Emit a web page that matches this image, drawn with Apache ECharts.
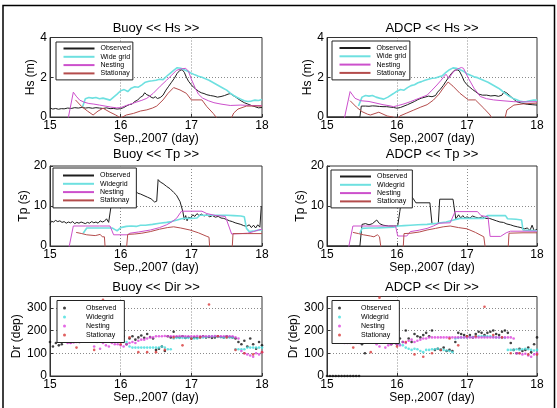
<!DOCTYPE html>
<html lang="en">
<head>
<meta charset="UTF-8" />
<title>Buoy / ADCP</title>
<style>
  body { margin: 0; padding: 0; background: #fff; }
  .chart { width: 557px; height: 408px; }
</style>
</head>
<body>
<div class="chart"></div>
<script src="https://cdn.jsdelivr.net/npm/echarts@6/dist/echarts.min.js"></script>
<script>
// ---- Hs (m) : [day, value] ----
const buoyHsObs = [[15.00,0.45],[15.04,0.40],[15.08,0.43],[15.12,0.39],[15.16,0.42],[15.20,0.41],[15.25,0.45],[15.30,0.43],[15.35,0.47],[15.40,0.45],[15.45,0.48],[15.50,0.45],[15.55,0.47],[15.60,0.44],[15.65,0.47],[15.70,0.45],[15.75,0.43],[15.80,0.46],[15.85,0.42],[15.90,0.43],[15.95,0.40],[16.00,0.42],[16.04,0.47],[16.08,0.55],[16.12,0.62],[16.16,0.65],[16.20,0.78],[16.24,0.85],[16.28,1.00],[16.31,1.05],[16.34,1.22],[16.37,1.12],[16.40,1.08],[16.43,1.00],[16.46,0.95],[16.49,1.02],[16.52,0.93],[16.56,0.98],[16.60,1.10],[16.64,1.35],[16.68,1.55],[16.72,1.75],[16.76,1.95],[16.80,2.20],[16.84,2.35],[16.87,2.38],[16.90,2.25],[16.93,2.00],[16.96,1.80],[17.00,1.62],[17.03,1.50],[17.06,1.42],[17.10,1.30],[17.14,1.22],[17.18,1.18],[17.22,1.12],[17.27,1.08],[17.32,1.05],[17.37,1.00],[17.42,1.03],[17.47,1.08],[17.52,1.15],[17.55,1.18],[17.58,1.10],[17.62,1.02],[17.66,0.92],[17.70,0.82],[17.75,0.72],[17.80,0.65],[17.85,0.58],[17.90,0.52],[17.95,0.46],[18.00,0.48]];
const buoyHsWide = [[15.46,0.50],[15.50,0.92],[15.55,0.98],[15.60,0.95],[15.65,0.98],[15.70,0.92],[15.75,0.95],[15.80,0.90],[15.85,0.85],[15.90,1.00],[15.95,1.15],[16.00,1.32],[16.05,1.38],[16.10,1.28],[16.15,1.45],[16.20,1.52],[16.25,1.50],[16.30,1.62],[16.35,1.75],[16.40,1.80],[16.45,1.82],[16.50,1.85],[16.55,1.90],[16.60,1.88],[16.65,2.05],[16.70,2.20],[16.75,2.35],[16.80,2.48],[16.85,2.45],[16.90,2.38],[16.95,2.30],[17.00,2.20],[17.05,2.12],[17.10,2.05],[17.15,2.00],[17.20,1.92],[17.25,1.85],[17.30,1.75],[17.35,1.65],[17.40,1.55],[17.45,1.45],[17.50,1.35],[17.55,1.20],[17.60,1.08],[17.65,0.98],[17.70,0.90],[17.75,0.82],[17.80,0.78],[17.85,0.80],[17.90,0.85],[17.95,0.83],[18.00,0.88]];
const buoyHsNest = [[15.25,-0.2],[15.33,1.25],[15.37,1.05],[15.42,0.85],[15.48,0.75],[15.55,0.68],[15.62,0.65],[15.70,0.60],[15.78,0.55],[15.86,0.50],[15.94,0.46],[16.00,0.47],[16.08,0.58],[16.15,0.66],[16.23,0.76],[16.30,0.84],[16.37,0.94],[16.46,1.19],[16.56,1.55],[16.65,1.85],[16.72,2.10],[16.79,2.35],[16.86,2.42],[16.92,2.45],[16.96,2.30],[17.00,1.90],[17.05,1.50],[17.10,1.15],[17.16,0.95],[17.24,0.82],[17.32,0.72],[17.42,0.65],[17.55,0.58],[17.70,0.60],[17.85,0.58],[18.00,0.57]];
const buoyHsStat = [[15.36,0.86],[15.45,0.52],[15.53,0.30],[15.61,0.10],[15.68,0.30],[15.75,0.44],[15.85,0.24],[15.93,0.10],[16.00,-0.05],[16.08,0.10],[16.18,0.18],[16.28,0.30],[16.37,0.36],[16.45,0.45],[16.51,0.55],[16.60,0.86],[16.67,1.19],[16.75,1.48],[16.84,1.36],[16.93,1.19],[17.00,0.86],[17.15,0.86],[17.22,0.52],[17.31,0.18],[17.37,-0.1],[17.56,-0.1],[17.60,0.20],[17.66,0.40],[17.78,0.55],[17.90,0.55],[18.00,0.55]];

const adcpHsObs = [[15.00,0],[15.47,0],[15.49,0.55],[15.55,0.55],[15.60,0.54],[15.65,0.56],[15.70,0.55],[15.75,0.53],[15.80,0.52],[15.85,0.52],[15.90,0.50],[15.95,0.48],[16.00,0.44],[16.05,0.48],[16.10,0.55],[16.15,0.62],[16.20,0.70],[16.25,0.78],[16.30,0.88],[16.35,0.95],[16.40,1.00],[16.45,1.05],[16.50,1.02],[16.55,1.08],[16.58,1.25],[16.62,1.40],[16.66,1.58],[16.70,1.80],[16.74,2.00],[16.78,2.20],[16.82,2.35],[16.86,2.37],[16.89,2.32],[16.93,2.05],[16.96,1.80],[17.00,1.62],[17.04,1.50],[17.08,1.38],[17.12,1.28],[17.17,1.15],[17.22,1.10],[17.28,1.10],[17.34,1.06],[17.40,1.08],[17.45,1.04],[17.50,1.10],[17.53,1.28],[17.57,1.20],[17.61,1.08],[17.66,0.92],[17.71,0.77],[17.78,0.70],[17.86,0.64],[17.93,0.62],[18.00,0.60]];
const adcpHsWide = [[15.45,0.55],[15.50,1.00],[15.55,1.08],[15.60,1.05],[15.65,1.08],[15.70,1.00],[15.75,0.95],[15.81,0.90],[15.87,1.00],[15.95,1.18],[16.00,1.30],[16.05,1.38],[16.10,1.35],[16.15,1.48],[16.20,1.58],[16.25,1.62],[16.30,1.72],[16.35,1.78],[16.40,1.85],[16.45,1.90],[16.50,1.95],[16.55,1.96],[16.60,2.02],[16.65,2.08],[16.70,2.25],[16.75,2.38],[16.80,2.47],[16.85,2.45],[16.90,2.38],[16.95,2.30],[17.00,2.18],[17.05,2.10],[17.10,2.02],[17.15,1.98],[17.20,1.90],[17.25,1.82],[17.30,1.75],[17.35,1.65],[17.40,1.55],[17.45,1.45],[17.50,1.32],[17.55,1.18],[17.60,1.05],[17.65,0.95],[17.70,0.88],[17.75,0.80],[17.80,0.76],[17.85,0.78],[17.90,0.82],[17.95,0.85],[18.00,0.85]];
const adcpHsNest = [[15.24,-0.2],[15.33,1.28],[15.40,0.94],[15.48,0.82],[15.60,0.78],[15.70,0.70],[15.80,0.62],[15.90,0.56],[15.95,0.52],[16.02,0.58],[16.10,0.66],[16.19,0.77],[16.30,0.92],[16.43,1.10],[16.50,1.35],[16.57,1.61],[16.63,1.85],[16.67,2.03],[16.70,2.15],[16.74,1.95],[16.81,2.29],[16.87,2.42],[16.92,2.49],[16.95,2.45],[17.02,1.95],[17.10,1.45],[17.19,1.03],[17.28,0.92],[17.38,0.86],[17.50,0.82],[17.67,0.77],[17.85,0.76],[18.00,0.77]];
const adcpHsStat = [[15.33,0.82],[15.42,0.50],[15.50,0.27],[15.58,0.14],[15.62,0.10],[15.74,0.24],[15.86,0.05],[15.94,0.00],[16.00,-0.1],[16.04,0.05],[16.14,0.20],[16.24,0.35],[16.34,0.50],[16.43,0.62],[16.52,0.85],[16.60,1.15],[16.67,1.50],[16.73,1.76],[16.80,1.55],[16.90,1.19],[17.02,0.86],[17.12,0.86],[17.24,0.44],[17.33,0.10],[17.36,-0.1],[17.54,-0.1],[17.57,0.35],[17.67,0.60],[17.80,0.66],[17.90,0.68],[18.00,0.70]];

// ---- Tp (s) : [day, value] ----
const buoyTpObs = [[15.00,5.4],[15.02,6.2],[15.05,6.0],[15.08,6.4],[15.11,6.1],[15.14,6.3],[15.17,5.9],[15.20,6.1],[15.23,5.7],[15.26,6.0],[15.29,5.8],[15.32,6.1],[15.35,5.6],[15.38,5.9],[15.41,5.7],[15.44,6.0],[15.47,5.8],[15.50,5.6],[15.53,5.9],[15.56,5.7],[15.59,6.1],[15.62,5.8],[15.65,6.0],[15.68,5.7],[15.71,6.3],[15.74,6.0],[15.77,6.2],[15.80,6.8],[15.83,5.9],[15.855,5.8],[15.86,9.5],[15.90,10.2],[15.94,12.0],[15.98,12.8],[16.02,13.5],[16.05,12.9],[16.08,14.2],[16.11,13.4],[16.14,14.5],[16.17,13.6],[16.20,14.0],[16.24,13.2],[16.28,13.0],[16.33,12.6],[16.38,12.2],[16.43,11.8],[16.48,11.0],[16.51,11.2],[16.53,16.6],[16.56,16.0],[16.60,15.6],[16.65,14.9],[16.70,14.3],[16.75,13.4],[16.79,12.7],[16.84,11.1],[16.88,8.6],[16.90,6.6],[16.92,7.6],[16.94,6.3],[16.96,7.2],[16.99,7.0],[17.02,7.8],[17.05,7.4],[17.08,8.1],[17.11,7.6],[17.14,8.0],[17.18,7.5],[17.22,7.8],[17.26,7.3],[17.30,7.6],[17.34,7.2],[17.38,7.4],[17.42,7.0],[17.46,6.9],[17.50,6.6],[17.54,6.3],[17.58,6.1],[17.62,5.8],[17.66,5.6],[17.70,5.4],[17.74,5.1],[17.78,4.9],[17.82,5.3],[17.85,4.6],[17.88,5.2],[17.91,4.5],[17.94,5.3],[17.97,4.7],[17.985,5.0],[17.99,10.0]];
const buoyTpWide = [[15.47,3.2],[15.52,4.5],[15.60,4.5],[15.70,4.5],[15.80,4.5],[15.88,4.5],[15.92,4.1],[15.95,3.8],[16.00,4.6],[16.08,4.9],[16.15,5.0],[16.22,4.9],[16.28,5.2],[16.35,5.2],[16.45,5.4],[16.55,5.7],[16.65,5.9],[16.72,6.1],[16.80,6.5],[16.86,6.8],[16.90,6.9],[17.00,6.9],[17.08,7.0],[17.12,7.7],[17.20,7.7],[17.30,7.7],[17.40,7.7],[17.50,7.7],[17.60,7.6],[17.70,7.5],[17.75,7.3],[17.78,4.4],[17.82,3.6],[17.90,3.8],[18.00,4.1]];
const buoyTpNest = [[15.25,-2],[15.33,5.0],[15.50,5.0],[15.70,5.0],[15.85,5.0],[15.90,2.8],[16.10,2.8],[16.13,3.2],[16.25,3.5],[16.42,4.0],[16.55,4.6],[16.65,5.3],[16.72,6.0],[16.79,6.9],[16.86,8.7],[17.15,8.7],[17.22,8.1],[17.35,7.6],[17.48,7.4],[17.53,5.0],[17.57,3.0],[17.70,3.1],[17.80,3.2],[17.88,3.6],[17.95,4.0],[18.00,4.2]];
const buoyTpStat = [[15.37,3.4],[15.45,3.1],[15.52,2.8],[15.64,2.6],[15.71,2.9],[15.74,2.3],[15.77,2.3],[15.79,-3],[16.07,-3],[16.10,2.9],[16.20,3.0],[16.30,3.2],[16.42,3.6],[16.55,4.2],[16.66,4.6],[16.75,4.8],[16.85,4.5],[16.98,4.0],[17.10,3.3],[17.22,2.4],[17.25,2.2],[17.27,-3],[17.57,-3],[17.59,3.1],[17.80,3.1],[18.00,3.1]];

const adcpTpObs = [[15.00,0],[15.47,0],[15.50,5.4],[15.55,5.6],[15.60,5.3],[15.65,5.6],[15.71,6.5],[15.75,5.6],[15.80,5.2],[15.88,5.0],[15.95,5.0],[16.01,5.0],[16.04,8.6],[16.07,12.3],[16.10,12.9],[16.14,11.9],[16.19,12.8],[16.23,11.9],[16.27,10.8],[16.47,10.8],[16.50,5.6],[16.59,5.6],[16.61,11.7],[16.80,11.7],[16.84,6.8],[16.88,7.8],[16.91,7.0],[16.94,7.6],[16.97,7.0],[17.00,7.3],[17.04,7.0],[17.08,7.5],[17.12,7.2],[17.17,7.0],[17.22,7.3],[17.27,6.9],[17.32,6.9],[17.37,6.6],[17.42,6.3],[17.47,6.0],[17.52,5.9],[17.57,5.5],[17.62,5.3],[17.67,5.0],[17.72,4.8],[17.77,4.6],[17.82,4.3],[17.86,4.5],[17.90,3.9],[17.93,5.2],[17.96,3.8],[18.00,4.2]];
const adcpTpWide = [[15.47,3.2],[15.50,4.4],[15.60,4.5],[15.70,4.5],[15.80,4.6],[15.95,4.7],[16.02,5.0],[16.10,5.1],[16.19,5.2],[16.30,5.3],[16.43,5.4],[16.57,5.7],[16.70,6.0],[16.81,6.5],[16.90,6.9],[17.10,6.9],[17.24,6.9],[17.29,7.6],[17.45,7.6],[17.55,7.6],[17.58,6.8],[17.70,6.7],[17.78,6.5],[17.80,4.0],[17.90,3.9],[18.00,3.8]];
const adcpTpNest = [[15.29,-2],[15.37,5.0],[15.60,5.0],[15.80,5.0],[15.98,5.0],[16.01,2.5],[16.14,2.5],[16.19,3.6],[16.30,3.9],[16.43,4.4],[16.52,5.0],[16.60,5.7],[16.76,5.8],[16.83,8.6],[17.15,8.6],[17.20,7.6],[17.30,7.3],[17.33,2.4],[17.48,2.4],[17.56,3.3],[17.62,3.7],[17.80,3.7],[18.00,3.7]];
const adcpTpStat = [[15.37,3.4],[15.45,3.1],[15.52,2.8],[15.62,2.5],[15.67,2.3],[15.72,2.8],[15.75,2.3],[15.77,2.2],[15.79,-3],[16.08,-3],[16.10,3.1],[16.20,3.2],[16.32,3.5],[16.43,4.0],[16.55,4.4],[16.66,4.8],[16.76,5.0],[16.88,4.6],[17.00,4.3],[17.12,3.4],[17.24,2.3],[17.26,2.2],[17.28,-3],[17.58,-3],[17.60,3.2],[17.80,3.3],[18.00,3.3]];

// ---- Dir (deg) : hourly values, first sample at the given hour after day 15 ----
const buoyDirObs = [150,130,145,135,140,155,150,148,155,160,150,158,162,155,160,165,158,160,152,165,160,170,155,162,150,175,140,165,175,160,170,178,168,185,172,165,115,120,130,110,175,170,195,172,170,175,168,172,165,170,168,172,175,170,172,168,170,175,172,170,175,172,170,165,150,140,155,130,165,140,120,150,135];
const buoyDirWide = [160,162,165,165,160,162,165,163,160,158,160,158,155,150,150,130,125,125,125,125,125,125,125,125,125,125,130,125,118,118,165,168,168,168,168,168,168,165,165,168,170,172,175,175,175,172,172,170,170,170,170,118,118,118,118,125,125,125,125,125,125];
const buoyDirNest = [145,145,148,150,150,155,155,158,155,130,150,120,145,135,130,145,140,140,135,130,140,145,150,145,155,160,160,165,170,170,175,175,175,176,175,175,175,175,176,175,175,175,175,175,176,175,175,175,175,175,176,175,175,175,175,175,175,170,165,110,100,95,90,85,100,95,105];
const buoyDirStat = [125,160,115,335,165,140,170,105,105,105,115,170,135,165,170,315,175,170,115,100,95,105];

const adcpDirObs = [0,0,0,0,0,0,0,0,0,0,0,0,140,100,160,170,165,180,175,160,180,170,140,160,140,165,150,200,165,150,185,175,170,180,190,175,200,115,120,115,125,110,115,110,150,190,185,180,175,180,170,185,195,190,180,190,195,200,185,180,195,200,190,145,115,100,120,110,115,125,105,140,170];
const adcpDirWide = [165,165,168,165,162,165,165,160,162,165,160,158,150,140,135,125,120,115,120,118,110,105,115,115,118,118,120,118,115,112,110,105,165,168,170,170,170,172,172,175,175,175,175,175,175,172,170,170,168,168,115,115,115,118,115,118,120,118,115,112,115];
const adcpDirNest = [145,145,145,148,145,145,150,155,155,155,150,140,130,150,125,135,140,145,140,135,150,145,155,160,150,155,160,165,165,170,170,170,170,170,170,170,170,170,170,170,170,170,170,170,170,170,170,170,170,170,170,170,170,170,170,170,170,170,165,100,100,95,98,90,85,95,100];
const adcpDirStat = [125,165,105,345,160,130,150,95,85,100,115,165,135,175,175,305,180,170,100,100,95,95];

const legendRow1 = ['Observed', 'Wide grid', 'Nesting', 'Stationay'];
const legendRows23 = ['Observed', 'Widegrid', 'Nesting', 'Stationay'];

function hourly(startHour, stepHours, values) {
  return values.map((v, i) => [15 + (startHour + i * stepHours) / 24, v]);
}

const FONT = '"Liberation Sans", Arial, sans-serif';
const lineColors = ['#1e1e1e', '#6ee0e0', '#cc50cc', '#b44c4c'];
const dotColors = ['#111111', '#44dddd', '#dd44dd', '#d83838'];
const lineWidths = [1, 1.6, 1, 1];

const cols = [{ left: 50, width: 212, cx: 156 }, { left: 327, width: 210, cx: 432 }];
const rows = [
  { top: 37.5, height: 79.5, titleTop: 21.5, yName: 'Hs (m)', max: 4, interval: 2, nameGap: 13, kind: 'line' },
  { top: 166, height: 80, titleTop: 148, yName: 'Tp (s)', max: 20, interval: 10, nameGap: 20, kind: 'line' },
  { top: 296.5, height: 79.5, titleTop: 281, yName: 'Dr (dep)', max: 350, interval: 100, nameGap: 25, kind: 'scatter' }
];

const panels = [
  { row: 0, col: 0, title: 'Buoy << Hs >>', names: legendRow1, data: [buoyHsObs, buoyHsWide, buoyHsNest, buoyHsStat], legend: { left: 56, top: 42, padding: [2.5, 2, 2.5, 6.5] } },
  { row: 0, col: 1, title: 'ADCP << Hs >>', names: legendRow1, data: [adcpHsObs, adcpHsWide, adcpHsNest, adcpHsStat], legend: { left: 332, top: 41, padding: [3, 3, 3, 6.5] } },
  { row: 1, col: 0, title: 'Buoy << Tp >>', names: legendRows23, data: [buoyTpObs, buoyTpWide, buoyTpNest, buoyTpStat], legend: { left: 53, top: 168, padding: [3.5, 6, 3.5, 9] } },
  { row: 1, col: 1, title: 'ADCP << Tp >>', names: legendRows23, data: [adcpTpObs, adcpTpWide, adcpTpNest, adcpTpStat], legend: { left: 331, top: 170, padding: [2.5, 5, 2.5, 8] } },
  { row: 2, col: 0, title: 'Buoy << Dir >>', names: legendRows23,
    data: [hourly(0, 1, buoyDirObs), hourly(12, 1, buoyDirWide), hourly(6, 1, buoyDirNest), hourly(9, 3, buoyDirStat)],
    legend: { left: 57, top: 300.5, padding: [3, 8, 3, 6] } },
  { row: 2, col: 1, title: 'ADCP << Dir >>', names: legendRows23,
    data: [hourly(0, 1, adcpDirObs), hourly(12, 1, adcpDirWide), hourly(6, 1, adcpDirNest), hourly(9, 3, adcpDirStat)],
    legend: { left: 332, top: 300.5, padding: [3, 8, 4, 6] } }
];

const axisColor = '#333';
const gridLine = { show: true, showMinLine: false, showMaxLine: false, lineStyle: { color: '#8a8a8a', type: [1, 2], width: 1 } };

const option = {
  animation: false,
  backgroundColor: '#fff',
  textStyle: { fontFamily: FONT },
  title: [], grid: [], xAxis: [], yAxis: [], legend: [], series: [],
  graphic: [{
    type: 'rect', z: 100, silent: true,
    shape: { x: 3, y: 5.5, width: 551.5, height: 410 },
    style: { fill: 'none', stroke: '#000', lineWidth: 1.5 }
  }]
};

panels.forEach((p, i) => {
  const r = rows[p.row], c = cols[p.col];
  option.title.push({
    text: p.title, left: c.cx, top: r.titleTop, textAlign: 'center', padding: 0,
    textStyle: { fontFamily: FONT, fontSize: 13, fontWeight: 'normal', color: '#000' }
  });
  option.grid.push({
    left: c.left, top: r.top, width: c.width, height: r.height,
    show: true, borderColor: axisColor, borderWidth: 1, backgroundColor: '#fff'
  });
  option.xAxis.push({
    gridIndex: i, type: 'value', min: 15, max: 18, interval: 1,
    name: 'Sep.,2007 (day)', nameLocation: 'middle', nameGap: 15,
    nameTextStyle: { fontFamily: FONT, fontSize: 12, color: '#000' },
    axisLine: { lineStyle: { color: axisColor } },
    axisTick: { inside: true, length: 3, lineStyle: { color: axisColor } },
    axisLabel: { margin: 3, fontFamily: FONT, fontSize: 12, color: '#000' },
    splitLine: gridLine
  });
  option.yAxis.push({
    gridIndex: i, type: 'value', min: 0, max: r.max, interval: r.interval,
    name: r.yName, nameLocation: 'middle', nameGap: r.nameGap,
    nameTextStyle: { fontFamily: FONT, fontSize: 12, color: '#000' },
    axisLine: { show: true, lineStyle: { color: axisColor } },
    axisTick: { show: true, inside: true, length: 3, lineStyle: { color: axisColor } },
    axisLabel: { margin: 3, fontFamily: FONT, fontSize: 12, color: '#000', showMaxLabel: r.max % r.interval === 0 },
    splitLine: gridLine
  });
  const ids = p.names.map(n => n + '|' + i);
  const isDot = r.kind === 'scatter';
  const legend = {
    data: ids, orient: 'vertical', left: p.legend.left, top: p.legend.top, padding: p.legend.padding,
    selectedMode: false, backgroundColor: '#fff', borderColor: '#222', borderWidth: 1, borderRadius: 0,
    itemWidth: 31, itemHeight: isDot ? 3 : 8, itemGap: isDot ? 0 : 0.3,
    formatter: name => name.split('|')[0],
    textStyle: { fontFamily: FONT, fontSize: 7, color: '#000', lineHeight: isDot ? 9 : 8, padding: [0, 0, 0, 1] }
  };
  // line samples only: hide the marker that the legend puts on a line icon
  if (!isDot) legend.itemStyle = { opacity: 0 };
  option.legend.push(legend);
  p.data.forEach((d, k) => {
    if (isDot) {
      option.series.push({
        name: ids[k], type: 'scatter', xAxisIndex: i, yAxisIndex: i, data: d,
        symbol: 'circle', symbolSize: 2.6, itemStyle: { color: dotColors[k] }, clip: true
      });
    } else {
      option.series.push({
        name: ids[k], type: 'line', xAxisIndex: i, yAxisIndex: i, data: d,
        symbol: 'none', clip: true, itemStyle: { color: lineColors[k] },
        lineStyle: { color: lineColors[k], width: lineWidths[k] }
      });
    }
  });
});

const chart = echarts.init(document.querySelector('.chart'));
chart.setOption(option);
</script>
</body>
</html>
